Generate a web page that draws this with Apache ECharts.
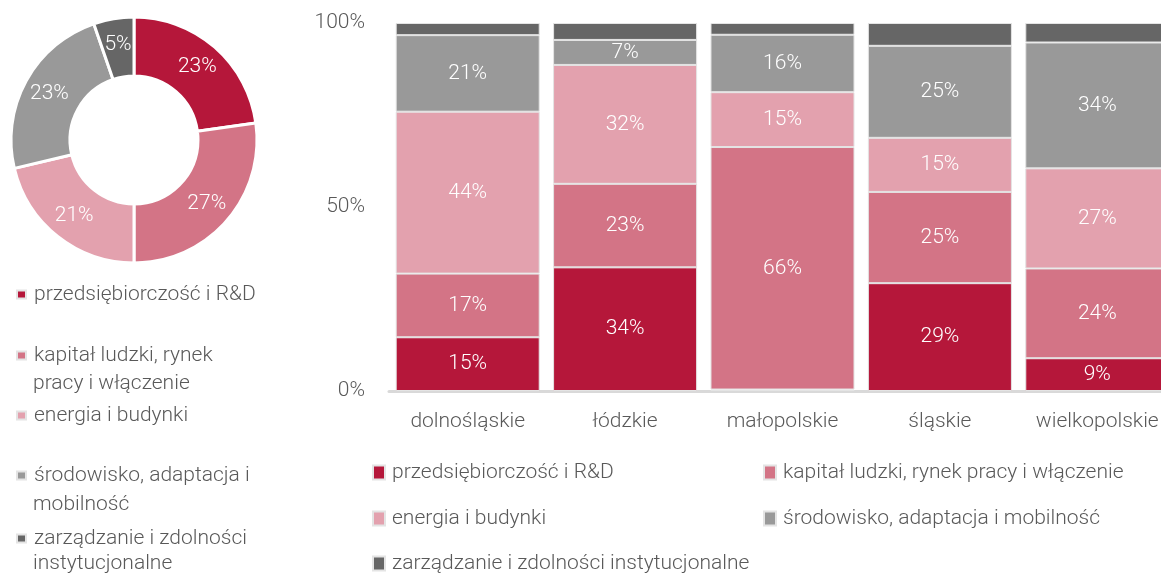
<!DOCTYPE html>
<html>
<head>
<meta charset="utf-8">
<script src="https://cdn.jsdelivr.net/npm/echarts@6/dist/echarts.min.js"></script>
<style>
  html, body { margin: 0; padding: 0; background: #fff; }
  #chart { width: 1161px; height: 575px; }
</style>
</head>
<body>
<div id="chart"></div>
<script>
  // dane
  const categories = [
    'przedsiębiorczość i R&D',
    'kapitał ludzki, rynek pracy i włączenie',
    'energia i budynki',
    'środowisko, adaptacja i mobilność',
    'zarządzanie i zdolności instytucjonalne',
  ]
  // etykiety legendy po lewej (pierwsza / druga linia)
  const sideLegendFirst = ['przedsiębiorczość i R&D', 'kapitał ludzki, rynek', 'energia i budynki', 'środowisko, adaptacja i', 'zarządzanie i zdolności']
  const sideLegendSecond = ['', 'pracy i włączenie', '', 'mobilność', 'instytucjonalne']
  const colors = ['#B5173A', '#D37486', '#E3A1AE', '#999999', '#666666']

  const donutValues = [22.8, 27.2, 21.3, 23.4, 5.3]

  const regions = ['dolnośląskie', 'łódzkie', 'małopolskie', 'śląskie', 'wielkopolskie']
  const przedsiebiorczosc = [14.6, 33.6, 0.4, 29.3, 8.9]
  const kapital = [17.3, 22.7, 65.9, 24.8, 24.4]
  const energia = [44.0, 32.3, 14.9, 14.7, 27.2]
  const srodowisko = [20.8, 6.8, 15.6, 25.0, 34.2]
  const zarzadzanie = [3.3, 4.6, 3.2, 6.2, 5.3]
  const stackValues = [przedsiebiorczosc, kapital, energia, srodowisko, zarzadzanie]

  const yTicks = [0, 50, 100]

  const textColor = '#595959'
  const font = 'Roboto'
  const fs = 21

  const pct = (v) => Math.round(v) + '%'

  const el = document.getElementById('chart')
  const chart = echarts.init(el, undefined, { renderer: 'canvas' })

  // legenda boczna: jeden komponent na pozycję
  const sideRows = [296, 357, 417, 477, 540]
  const sideLegends = categories.map((name, i) => ({
    data: [name],
    left: 16,
    top: sideRows[i] - 12,
    padding: 0,
    itemWidth: 9,
    itemHeight: 8,
    icon: 'rect',
    formatter: () => sideLegendFirst[i],
    textStyle: { fontFamily: font, fontWeight: 300, fontSize: fs, color: textColor, padding: [0, 0, 0, 3] },
  }))
  const secondLineRows = { 1: 385, 3: 506, 4: 565 }
  const sideSecondLines = Object.keys(secondLineRows).map((k) => ({
    type: 'text',
    left: 33,
    top: secondLineRows[k] - 12,
    style: { text: sideLegendSecond[k], font: `300 ${fs}px ${font}`, fill: textColor },
  }))

  // legenda pod wykresem słupkowym
  const bottomPos = [
    [372, 474], [763, 474], [372, 520], [763, 520], [372, 565],
  ]
  const bottomLegends = categories.map((name, i) => ({
    data: [name],
    left: bottomPos[i][0],
    top: bottomPos[i][1] - 12,
    padding: 0,
    itemWidth: 12,
    itemHeight: 14,
    icon: 'rect',
    textStyle: { fontFamily: font, fontWeight: 300, fontSize: fs, color: textColor, padding: [0, 0, 0, 2] },
  }))

  const barSeries = categories.map((name, i) => ({
    name,
    type: 'bar',
    stack: 'total',
    data: stackValues[i],
    barCategoryGap: '8.5%',
    itemStyle: { color: colors[i], borderColor: '#e4e4e4', borderWidth: 1 },
    label: {
      show: i < 4,
      position: 'inside',
      color: '#fff',
      fontFamily: font,
      fontWeight: 300,
      fontSize: fs,
      formatter: (p) => (p.value < 2 ? '' : pct(p.value)),
    },
  }))

  const option = {
    animation: false,
    color: colors,
    legend: [...sideLegends, ...bottomLegends],
    graphic: sideSecondLines,
    grid: {
      left: 389,
      width: 787,
      top: 23,
      bottom: 184,
      containLabel: false,
      outerBoundsMode: 'none',
    },
    xAxis: {
      type: 'category',
      data: regions,
      axisLine: { show: true, lineStyle: { color: '#d9d9d9', width: 3 } },
      axisTick: { show: false },
      axisLabel: { interval: 0, fontFamily: font, fontWeight: 300, fontSize: fs, color: textColor, margin: 20 },
    },
    yAxis: {
      type: 'value',
      min: yTicks[0],
      max: yTicks[yTicks.length - 1],
      interval: yTicks[1] - yTicks[0],
      axisLine: { show: false },
      axisTick: { show: false },
      splitLine: { show: false },
      axisLabel: {
        fontFamily: font,
        fontWeight: 300,
        fontSize: fs,
        color: textColor,
        margin: 24,
        formatter: '{value}%',
      },
    },
    series: [
      {
        name: 'udział',
        type: 'pie',
        center: [134, 140],
        radius: [64, 123],
        startAngle: 90,
        clockwise: true,
        avoidLabelOverlap: false,
        data: categories.map((name, i) => ({ name, value: donutValues[i] })),
        itemStyle: { borderColor: '#fff', borderWidth: 3 },
        label: {
          show: true,
          position: 'inside',
          color: '#fff',
          fontFamily: font,
          fontWeight: 300,
          fontSize: fs,
          formatter: (p) => pct(p.value),
        },
        labelLine: { show: false },
      },
      ...barSeries,
    ],
  }

  chart.setOption(option)
</script>
</body>
</html>
